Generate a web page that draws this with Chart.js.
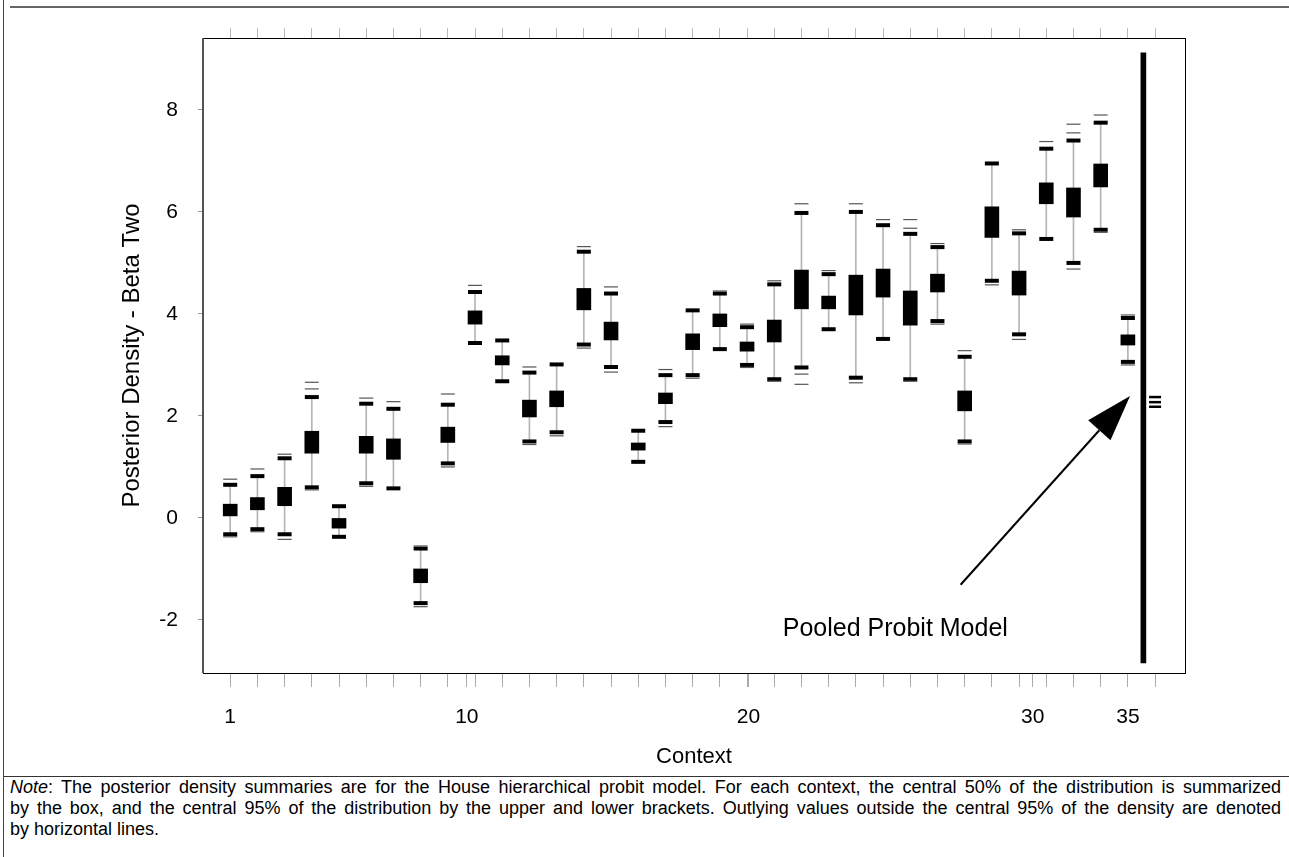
<!DOCTYPE html>
<html>
<head>
<meta charset="utf-8">
<script src="https://cdn.jsdelivr.net/npm/chart.js@4.4.1/dist/chart.umd.min.js"></script>
<style>
  html, body { margin: 0; padding: 0; background: #fff; }
  body { width: 1289px; height: 857px; position: relative; overflow: hidden; font-family: "Liberation Sans", Arial, sans-serif; }
  #topRule { position: absolute; left: 10px; right: 0; top: 6px; height: 2px; background: #666; }
  #leftRule { position: absolute; left: 3px; top: 0; bottom: 0; width: 1px; background: #444; }
  #noteRule { position: absolute; left: 4px; right: 0; top: 776px; height: 1px; background: #333; }
  #chartBox { position: absolute; left: 0; top: 0; width: 1289px; height: 775px; }
  #note { position: absolute; left: 10px; top: 777px; width: 1271px; font-size: 18px; line-height: 21px; color: #000; }
  #note .j { text-align: justify; text-align-last: justify; }
</style>
</head>
<body>
<div id="topRule"></div>
<div id="leftRule"></div>
<div id="chartBox"><canvas id="boxChart"></canvas></div>
<div id="noteRule"></div>
<div id="note">
  <div class="j"><i>Note</i>: The posterior density summaries are for the House hierarchical probit model. For each context, the central 50% of the distribution is summarized</div>
  <div class="j">by the box, and the central 95% of the distribution by the upper and lower brackets. Outlying values outside the central 95% of the density are denoted</div>
  <div>by horizontal lines.</div>
</div>
<script>
// one entry per context 1..34
const contexts = [1, 2, 3, 4, 5, 6, 7, 8, 9, 10, 11, 12, 13, 14, 15, 16, 17, 18, 19, 20,
  21, 22, 23, 24, 25, 26, 27, 28, 29, 30, 31, 32, 33, 34];
const boxLow = [0.04, 0.16, 0.24, 1.27, -0.2, 1.27, 1.15, -1.27, 1.48, 3.8, 3.0, 1.98, 2.18, 4.08, 3.49, 1.33, 2.24,
  3.3, 3.75, 3.27, 3.45, 4.1, 4.1, 3.98, 4.33, 3.78, 4.43, 2.1, 5.5, 4.37, 6.16, 5.9, 6.49, 3.39];
const boxHigh = [0.27, 0.4, 0.6, 1.7, 0.0, 1.6, 1.55, -1.0, 1.78, 4.06, 3.18, 2.31, 2.49, 4.5, 3.84, 1.47, 2.45,
  3.61, 4.0, 3.45, 3.88, 4.86, 4.35, 4.76, 4.88, 4.45, 4.78, 2.49, 6.1, 4.84, 6.57, 6.47, 6.94, 3.59];
const bracketLow = [-0.32, -0.22, -0.32, 0.6, -0.37, 0.68, 0.58, -1.67, 1.07, 3.43, 2.68, 1.5, 1.68, 3.4, 2.96, 1.1, 1.88,
  2.8, 3.31, 3.0, 2.72, 2.95, 3.7, 2.75, 3.51, 2.72, 3.86, 1.5, 4.65, 3.6, 5.47, 5.0, 5.65, 3.06];
const bracketHigh = [0.65, 0.82, 1.17, 2.37, 0.23, 2.24, 2.14, -0.6, 2.22, 4.43, 3.48, 2.85, 3.01, 5.22, 4.4, 1.71, 2.8,
  4.07, 4.4, 3.74, 4.58, 5.98, 4.78, 6.0, 5.74, 5.57, 5.31, 3.16, 6.95, 5.58, 7.24, 7.4, 7.75, 3.92];
const outliersLow = [[-0.37], [-0.27], [-0.42], [0.55], [], [0.62], [], [-1.74], [1.0], [], [], [1.44], [1.61], [3.33],
  [2.86], [], [1.79], [2.74], [], [2.95], [2.68], [2.82, 2.62], [], [2.65], [], [2.68], [3.8], [1.45], [4.57], [3.5],
  [], [4.88], [5.6], [3.0]];
const outliersHigh = [[0.76], [0.96], [1.25], [2.53, 2.66], [], [2.35], [2.28], [-0.55], [2.43], [4.56], [], [2.96], [],
  [5.32], [4.53], [], [2.91], [], [4.45], [3.8], [4.65], [6.16], [4.85], [6.16], [5.85], [5.68, 5.85], [5.38], [3.28],
  [], [5.65], [7.38], [7.55, 7.72], [7.9], [3.98]];

// pooled probit model
const pooledX = 34.57;
const pooledRange = [-2.84, 9.12];
const pooledMarkX = 35.0;
const pooledMarks = [2.37, 2.27, 2.18];

const xTickValues = [1, 9.7, 20.05, 30.5, 34];
const xTickLabels = ["1", "10", "20", "30", "35"];
const yTickValues = [-2, 0, 2, 4, 6, 8];

const arrowFrom = [27.85, -1.31];
const arrowTo = [34.08, 2.39];
const pooledLabelAt = [25.45, -2.18];

const xMin = 0, xMax = 36.1, yMin = -3.04, yMax = 9.41;

const whiskers = contexts.map((c, i) => ({ x: c, y: [bracketLow[i], bracketHigh[i]] }));
const boxes = contexts.map((c, i) => ({ x: c, y: [boxLow[i], boxHigh[i]] }));
const brackets = [];
contexts.forEach((c, i) => {
  brackets.push({ x: c, y: bracketLow[i] });
  brackets.push({ x: c, y: bracketHigh[i] });
});
const outliers = [];
contexts.forEach((c, i) => {
  outliersLow[i].forEach((v) => outliers.push({ x: c, y: v }));
  outliersHigh[i].forEach((v) => outliers.push({ x: c, y: v }));
});

const integerTicks = [];
for (let i = 1; i <= 35; i++) integerTicks.push(i);
const markOnlyTicks = integerTicks.filter((v) => xTickValues.indexOf(v) < 0);

const FONT = '"Liberation Sans", Arial, sans-serif';

const frame = {
  id: "frame",
  afterDatasetsDraw(chart) {
    const { ctx, chartArea: a, scales } = chart;
    ctx.save();
    ctx.strokeStyle = "#000";
    ctx.lineWidth = 1;
    ctx.strokeRect(a.left + 0.5, a.top + 0.5, a.right - a.left, a.bottom - a.top);
    ctx.strokeStyle = "#555";
    ctx.lineWidth = 2;
    ctx.beginPath();
    ctx.moveTo(a.left, a.top);
    ctx.lineTo(a.left, a.bottom);
    ctx.stroke();

    // arrow to the pooled model
    const x0 = scales.x.getPixelForValue(arrowFrom[0]);
    const y0 = scales.y.getPixelForValue(arrowFrom[1]);
    const x1 = scales.x.getPixelForValue(arrowTo[0]);
    const y1 = scales.y.getPixelForValue(arrowTo[1]);
    const ang = Math.atan2(y1 - y0, x1 - x0);
    const headLen = 46, headHalf = 15;
    const bx = x1 - headLen * Math.cos(ang);
    const by = y1 - headLen * Math.sin(ang);
    ctx.strokeStyle = "#000";
    ctx.lineWidth = 2;
    ctx.beginPath();
    ctx.moveTo(x0, y0);
    ctx.lineTo(bx, by);
    ctx.stroke();
    ctx.fillStyle = "#000";
    ctx.beginPath();
    ctx.moveTo(x1, y1);
    ctx.lineTo(bx + headHalf * Math.sin(ang), by - headHalf * Math.cos(ang));
    ctx.lineTo(bx - headHalf * Math.sin(ang), by + headHalf * Math.cos(ang));
    ctx.closePath();
    ctx.fill();

    ctx.font = "25px " + FONT;
    ctx.textAlign = "center";
    ctx.textBaseline = "middle";
    ctx.fillText("Pooled Probit Model",
      scales.x.getPixelForValue(pooledLabelAt[0]),
      scales.y.getPixelForValue(pooledLabelAt[1]));
    ctx.restore();
  },
};

const ctx = document.getElementById("boxChart").getContext("2d");
new Chart(ctx, {
  type: "bar",
  data: {
    datasets: [
      {
        label: "whiskers",
        data: whiskers,
        backgroundColor: "#b5b5b5",
        barThickness: 1,
        grouped: false,
        order: 5,
      },
      {
        label: "boxes",
        data: boxes,
        backgroundColor: "#000",
        barThickness: 14,
        grouped: false,
        order: 3,
      },
      {
        label: "pooled",
        data: [{ x: pooledX, y: pooledRange }],
        backgroundColor: "#000",
        barThickness: 5,
        grouped: false,
        order: 3,
      },
      {
        type: "scatter",
        label: "brackets",
        data: brackets,
        pointStyle: "line",
        pointRadius: 7,
        borderWidth: 4,
        borderColor: "#000",
        order: 2,
      },
      {
        type: "scatter",
        label: "outliers",
        data: outliers,
        pointStyle: "line",
        pointRadius: 7,
        borderWidth: 1.2,
        borderColor: "#555",
        order: 1,
      },
      {
        type: "scatter",
        label: "pooledMarks",
        data: pooledMarks.map((v) => ({ x: pooledMarkX, y: v })),
        pointStyle: "line",
        pointRadius: 6,
        borderWidth: 2.5,
        borderColor: "#000",
        order: 1,
      },
    ],
  },
  options: {
    responsive: true,
    maintainAspectRatio: false,
    animation: false,
    layout: { padding: { top: 28, right: 104, bottom: 0, left: 0 } },
    plugins: { legend: { display: false }, tooltip: { enabled: false } },
    scales: {
      x: {
        type: "linear",
        position: "bottom",
        min: xMin,
        max: xMax,
        offset: false,
        afterBuildTicks: (scale) => {
          const vals = markOnlyTicks.concat(xTickValues);
          scale.ticks = vals.map((v) => ({ value: v }));
        },
        afterFit: (scale) => { scale.height = 102; },
        ticks: {
          autoSkip: false,
          maxRotation: 0,
          padding: 18,
          color: "#000",
          font: { family: FONT, size: 21 },
          callback: (v) => {
            const k = xTickValues.indexOf(v);
            return k >= 0 ? xTickLabels[k] : "";
          },
        },
        grid: { drawOnChartArea: false, offset: false, tickLength: 14, color: "#aaa" },
        border: { display: false },
        title: {
          display: true,
          text: "Context",
          color: "#000",
          font: { family: FONT, size: 22 },
          padding: { top: 0, bottom: 5 },
        },
      },
      xTop: {
        type: "linear",
        position: "top",
        min: xMin,
        max: xMax,
        offset: false,
        afterBuildTicks: (scale) => {
          scale.ticks = integerTicks.map((v) => ({ value: v }));
        },
        afterFit: (scale) => { scale.height = 10; },
        ticks: { display: false },
        grid: { drawOnChartArea: false, offset: false, tickLength: 10, color: "#bbb" },
        border: { display: false },
      },
      y: {
        type: "linear",
        min: yMin,
        max: yMax,
        afterBuildTicks: (scale) => {
          scale.ticks = yTickValues.map((v) => ({ value: v }));
        },
        afterFit: (scale) => { scale.width = 203; },
        ticks: {
          padding: 20,
          color: "#000",
          font: { family: FONT, size: 21 },
        },
        grid: { drawOnChartArea: false, tickLength: 5, color: "#999" },
        border: { display: false },
        title: {
          display: true,
          text: "Posterior Density - Beta Two",
          color: "#000",
          font: { family: FONT, size: 24 },
          padding: { top: 118, bottom: 0 },
        },
      },
    },
  },
  plugins: [frame],
});
</script>
</body>
</html>
